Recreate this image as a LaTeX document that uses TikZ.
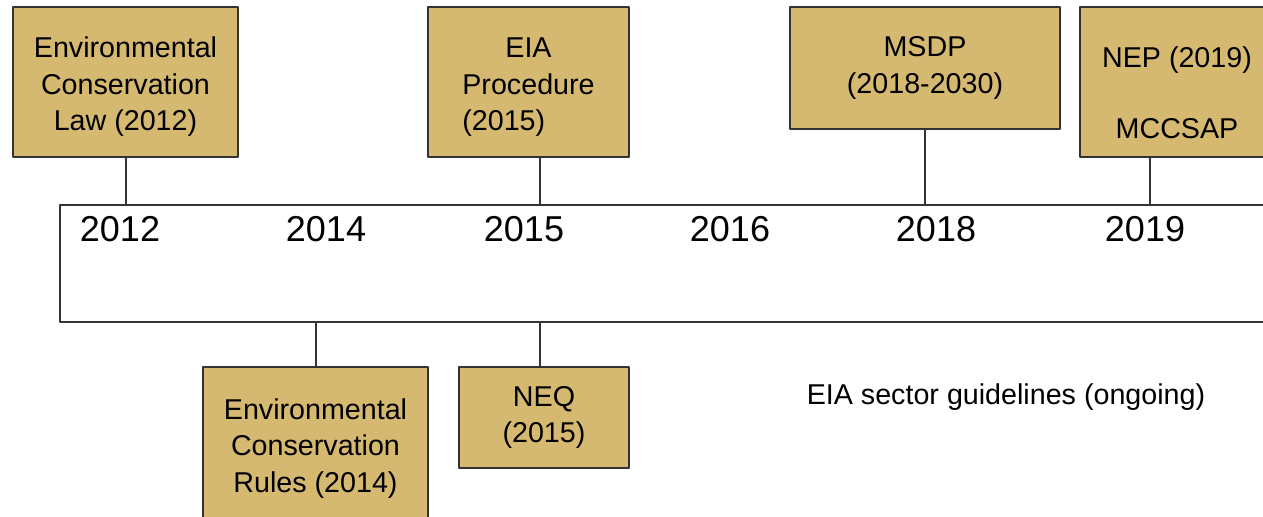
\documentclass[tikz,border=0pt]{standalone}
\usepackage{fontspec}
\setmainfont{Liberation Sans}
\definecolor{boxtan}{RGB}{214,185,112}
\definecolor{edgegray}{RGB}{51,51,51}
\tikzset{
  event/.style={draw=edgegray, fill=boxtan, line width=1.5pt, inner sep=0pt, align=center},
  link/.style={draw=edgegray, line width=1.5pt},
  year/.style={font=\fontsize{27}{32}\selectfont}
}
\begin{document}
\begin{tikzpicture}[x=0.75pt, y=-0.75pt, line join=round, font=\fontsize{21.5}{27.4}\selectfont]
 \useasboundingbox (0,0) rectangle (1263,517);
 \clip (0,0) rectangle (1263,517);
 % timeline band, open to the right
 \coordinate (tl) at (60,205);
 \coordinate (bl) at (60,322);
 \coordinate (c2015) at (540,205);
 \coordinate (c2019) at (1150,205);
 \draw[link] (1270,205) -- (tl) -- (bl) -- (1270,322);
 % years
 \node[year] (y2012) at (120,229.5) {2012};
 \node[year] (y2014) at (326,229.5) {2014};
 \node[year] (y2015) at (524,229.5) {2015};
 \node[year] (y2016) at (730,229.5) {2016};
 \node[year] (y2018) at (936,229.5) {2018};
 \node[year] (y2019) at (1145,229.5) {2019};
 % events above
 \node[event, minimum width=168.75pt, minimum height=112.5pt] (law) at (125.5,82)
   {\raisebox{-3.75pt}[\height][\depth]{\begin{tabular}{@{}c@{}}Environmental\\Conservation\\Law (2012)\end{tabular}}};
 \node[event, minimum width=150.75pt, minimum height=112.5pt] (proc) at (528.5,82)
   {\raisebox{-3.75pt}[\height][\depth]{\begin{tabular}{@{}l@{}}\multicolumn{1}{@{}c@{}}{EIA}\\Procedure\\(2015)\end{tabular}}};
 \node[event, minimum width=202.5pt, minimum height=91.5pt] (msdp) at (925,68) {MSDP\\(2018-2030)};
 \node[event, minimum width=145.5pt, minimum height=112.5pt] (nep) at (1177,82) {};
 \node[align=center] (neptext) at (1177,92.5) {NEP (2019)\\[0.92cm]MCCSAP};
 % events below
 \node[event, minimum width=168.75pt, minimum height=116.25pt] (rules) at (315.5,444.5)
   {\raisebox{-3pt}[\height][\depth]{\begin{tabular}{@{}c@{}}Environmental\\Conservation\\Rules (2014)\end{tabular}}};
 \node[event, minimum width=127.5pt, minimum height=75.75pt] (neq) at (544,417.5) {NEQ\\(2015)};
 \node (guide) at (1006,397) {EIA sector guidelines (ongoing)};
 % connectors
 \draw[link] (law.south) -- (law.south |- tl);
 \draw[link] (c2015) -- (c2015 |- proc.south);
 \draw[link] (msdp.south) -- (msdp.south |- tl);
 \draw[link] (c2019) -- (c2019 |- nep.south);
 \draw[link] (rules.north) -- (rules.north |- bl);
 \draw[link] (c2015 |- bl) -- (c2015 |- neq.north);
\end{tikzpicture}
\end{document}
